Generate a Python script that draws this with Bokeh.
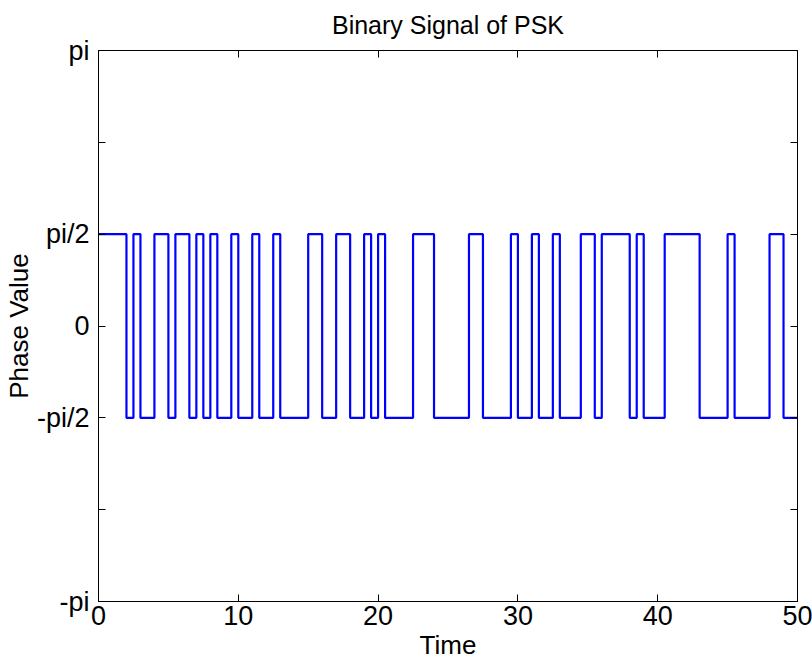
import math
from bokeh.plotting import figure
from bokeh.models import FixedTicker, LinearAxis, Range1d, CustomLabelingPolicy
from bokeh.embed import file_html
from bokeh.resources import INLINE

# switching instants (s) and the bit that starts at each instant
switch_times = [0, 2, 2.5, 3, 4, 5, 5.5, 6.5, 7, 7.5, 8, 8.5, 9.5, 10, 11, 11.5,
                12.5, 13, 15, 16, 17, 18, 19, 19.5, 20, 20.5, 22.5, 24, 26.5, 27.5,
                29.5, 30, 31, 31.5, 32.5, 33, 34.5, 35.5, 36, 38, 38.5, 39, 40.5,
                43, 45, 45.5, 48, 49]
bits = [1, 0, 1, 0, 1, 0, 1, 0, 1, 0, 1, 0, 1, 0, 1, 0,
        1, 0, 1, 0, 1, 0, 1, 0, 1, 0, 1, 0, 1, 0,
        1, 0, 1, 0, 1, 0, 1, 0, 1, 0, 1, 0, 1,
        0, 1, 0, 1, 0]
t_end = 50

phase_of_bit = {1: math.pi / 2, 0: -math.pi / 2}

y_ticks = [k * math.pi / 2 for k in range(-3, 4)]
y_tick_labels = ["-pi", "", "-pi/2", "0", "pi/2", "", "pi"]
x_ticks = [0, 10, 20, 30, 40, 50]

xs = switch_times + [t_end]
ys = [phase_of_bit[b] for b in bits]
ys = ys + [ys[-1]]

FONT = "Liberation Sans"

p = figure(width=812, height=662, output_backend="svg", toolbar_location=None,
           x_range=Range1d(0, 50), y_range=Range1d(-3 * math.pi / 2, 3 * math.pi / 2),
           min_border_left=97, min_border_right=15, min_border_top=49,
           min_border_bottom=59, title="Binary Signal of PSK")

p.step(xs, ys, mode="after", line_color="#0000ff", line_width=2.2)

p.xgrid.visible = False
p.ygrid.visible = False
p.background_fill_color = "white"
p.border_fill_color = "white"
p.outline_line_color = "black"
p.outline_line_width = 1

p.title.text_font = FONT
p.title.text_font_size = "25px"
p.title.text_font_style = "normal"
p.title.align = "center"
p.title.text_color = "black"
p.title.standoff = 16

for ax in (p.xaxis[0], p.yaxis[0]):
    ax.axis_line_color = "black"
    ax.major_tick_in = 7
    ax.major_tick_out = 0
    ax.minor_tick_line_color = None
    ax.major_label_text_font = FONT
    ax.major_label_text_font_size = "27px"
    ax.major_label_text_color = "black"
    ax.axis_label_text_font = FONT
    ax.axis_label_text_font_size = "26px"
    ax.axis_label_text_font_style = "normal"
    ax.axis_label_text_color = "black"

p.xaxis[0].ticker = FixedTicker(ticks=x_ticks)
p.xaxis[0].axis_label = "Time"
p.xaxis[0].major_label_standoff = 4
p.xaxis[0].axis_label_standoff = 2

p.yaxis[0].ticker = FixedTicker(ticks=y_ticks)
p.yaxis[0].major_label_overrides = {t: l for t, l in zip(y_ticks, y_tick_labels)}
p.yaxis[0].axis_label = "Phase Value"
p.yaxis[0].major_label_standoff = 9
p.yaxis[0].axis_label_standoff = 0

# mirrored box ticks on top and right, with no labels drawn
no_labels = CustomLabelingPolicy(code="""
const out = new indices.constructor(indices.size, 0);
return out;
""")
top_ax = LinearAxis(ticker=FixedTicker(ticks=x_ticks), major_tick_in=7, major_tick_out=0,
                    minor_tick_line_color=None, major_label_text_font_size="1px",
                    major_label_policy=no_labels,
                    major_label_standoff=0, axis_line_color="black")
right_ax = LinearAxis(ticker=FixedTicker(ticks=y_ticks), major_tick_in=7, major_tick_out=0,
                      minor_tick_line_color=None, major_label_text_font_size="1px",
                      major_label_policy=no_labels,
                      major_label_standoff=0, axis_line_color="black")
p.add_layout(top_ax, "above")
p.add_layout(right_ax, "right")

open("out.html", "w").write(file_html(p, INLINE))
